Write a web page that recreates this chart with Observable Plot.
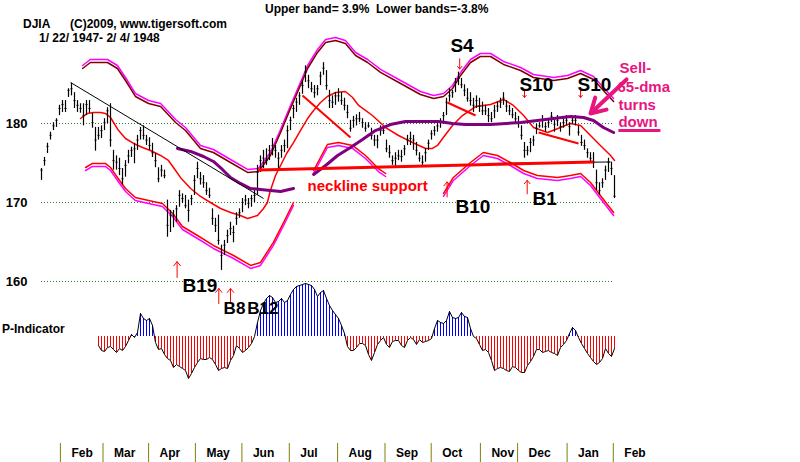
<!DOCTYPE html>
<html>
<head>
<meta charset="utf-8">
<script src="https://cdn.jsdelivr.net/npm/d3@7"></script>
<script src="https://cdn.jsdelivr.net/npm/@observablehq/plot@0.6"></script>
<style>
html,body{margin:0;padding:0;background:#fff;}
#wrap{position:relative;width:800px;height:462px;overflow:hidden;background:#fff;font-family:"Liberation Sans",Arial,Helvetica,sans-serif;font-weight:bold;color:#000;}
#wrap svg{position:absolute;left:0;}
.t{position:absolute;white-space:pre;font-size:12px;line-height:12px;}
</style>
</head>
<body>
<div id="wrap">
<div class="t" style="left:23px;top:18px">DJIA</div>
<div class="t" style="left:70px;top:18px">(C)2009, www.tigersoft.com</div>
<div class="t" style="left:39px;top:32px">1/ 22/ 1947- 2/ 4/ 1948</div>
<div class="t" style="left:265px;top:3px">Upper band= 3.9%  Lower bands=-3.8%</div>
<div class="t" style="left:2px;top:323px">P-Indicator</div>
</div>
<script>
// ---------------- DATA ----------------
// daily-ish bars (one bar per ~1.6 trading days), DJIA price
const hi = [174.3,175.7,177.5,178.9,180.1,180.6,182.3,182.9,182.9,184.4,185.1,183.9,182.9,182.5,182.5,182.9,182.9,181.3,179.5,179.5,179.7,180.6,182.0,182.5,176.6,175.9,175.6,174.3,175.3,176.6,177.0,177.5,178.5,179.5,179.7,178.5,178.2,177.5,176.2,174.4,174.7,174.1,
170.3,169.0,169.0,169.6,171.5,171.1,170.9,170.3,170.9,173.4,175.1,173.8,173.4,172.5,171.8,169.2,168.0,168.4,164.6,165.2,166.5,167.5,167.0,168.7,169.2,170.5,170.9,170.5,170.9,171.5,
174.7,175.9,176.6,176.8,177.2,178.1,177.2,176.3,177.2,177.9,179.7,180.8,182.3,183.2,183.9,185.4,187.3,186.1,185.2,184.8,184.8,186.5,187.7,186.7,184.2,183.5,183.9,184.4,183.9,183.2,182.3,180.4,180.9,181.1,181.4,180.6,180.1,180.1,179.4,178.5,178.5,179.7,179.6,
177.9,177.2,175.9,176.3,176.6,176.6,177.2,178.5,178.9,178.5,177.6,176.3,175.9,176.8,177.9,179.1,179.6,180.1,180.6,181.4,183.2,184.4,184.2,185.7,186.5,185.7,184.9,184.4,183.9,183.2,183.5,183.2,182.7,182.3,181.9,181.4,182.3,182.7,183.2,183.9,182.9,182.3,181.9,181.4,180.9,
179.7,177.6,177.1,178.1,178.4,179.9,180.1,181.0,180.1,180.6,181.4,180.4,181.0,180.1,180.6,181.0,180.1,180.9,181.0,179.7,178.5,177.9,176.8,176.3,176.3,174.1,172.5,173.0,174.6,175.6,175.1,173.4];
const lo = [172.8,174.6,176.2,177.9,179.1,179.5,181.0,181.4,181.4,183.3,183.5,181.9,181.4,181.3,179.7,181.0,181.3,179.4,176.5,177.9,178.1,179.1,180.0,177.0,174.1,174.1,173.4,172.2,173.2,174.9,175.7,174.9,176.6,177.9,177.9,177.2,176.6,175.7,174.4,172.5,173.2,173.0,
165.6,166.2,166.8,167.5,169.4,169.9,169.2,167.5,169.6,170.9,173.0,172.2,171.8,170.9,170.5,167.1,166.2,164.6,161.4,163.3,164.8,165.8,164.9,167.1,168.0,168.7,169.6,169.2,169.4,170.0,
170.9,173.8,174.3,174.7,175.3,175.9,175.6,174.3,175.6,176.3,176.8,179.1,180.6,181.4,182.3,183.7,185.2,184.4,183.9,183.2,183.5,184.8,186.1,184.2,181.9,181.9,182.3,182.7,182.3,181.6,180.6,178.9,179.4,179.7,180.1,179.4,178.9,179.4,177.9,177.1,176.8,178.4,178.6,
176.3,175.6,174.7,174.3,175.3,175.1,175.9,177.2,177.2,176.6,175.9,175.1,174.7,175.1,176.6,177.9,178.4,178.9,179.4,180.1,181.0,182.7,183.2,183.9,184.8,184.4,183.4,182.7,182.2,181.4,181.9,181.4,181.0,181.0,180.1,180.1,180.6,181.4,181.9,182.3,181.4,181.0,180.6,180.1,179.4,
177.9,175.6,175.9,176.3,177.1,178.6,179.4,179.4,178.9,179.4,180.1,178.9,179.6,178.9,179.4,179.7,178.4,179.9,179.7,178.4,177.1,176.6,175.6,175.1,174.3,171.5,170.9,171.8,172.8,173.8,173.4,170.5];
const cl = [174.1,175.3,177.1,178.5,179.7,180.4,181.9,182.4,181.9,184.2,184.4,182.9,182.3,181.9,181.0,182.4,181.9,180.1,177.9,178.5,179.1,180.1,181.6,177.9,175.3,175.1,174.3,173.0,174.7,175.9,176.6,176.8,177.9,179.1,178.5,177.9,177.2,176.3,175.3,173.0,174.1,173.4,
167.1,168.4,168.4,169.2,170.9,170.5,169.6,169.0,170.5,172.8,174.3,173.0,172.5,171.5,170.9,168.0,167.1,165.2,163.3,164.6,165.8,166.7,166.2,168.0,168.7,170.0,170.3,169.9,170.5,170.9,
173.8,175.3,175.6,175.3,176.6,177.2,176.6,175.6,176.6,177.2,179.1,180.4,181.9,182.7,183.5,184.8,186.5,185.4,184.4,183.9,184.4,186.0,187.0,184.8,182.9,182.7,183.5,183.5,182.9,182.3,181.4,179.4,180.4,180.6,180.6,180.1,179.4,179.7,178.5,177.9,177.9,179.1,179.1,
176.8,176.3,175.3,175.6,175.9,175.8,176.8,177.9,178.1,177.9,176.6,175.6,175.1,176.3,177.5,178.7,179.1,179.7,180.1,181.0,182.7,183.5,183.9,185.2,185.7,184.9,184.2,183.2,182.9,182.3,182.9,182.2,181.6,181.6,181.0,180.6,181.6,182.2,182.7,183.2,182.2,181.6,181.1,180.6,180.1,
178.5,176.6,176.6,177.6,177.9,179.4,179.7,180.4,179.6,180.1,180.9,179.9,180.4,179.6,180.1,180.4,179.6,180.4,180.4,178.9,177.6,177.2,176.3,175.6,175.1,172.5,171.5,172.5,174.1,175.1,174.3,170.8];

// 21-dma (middle red), positions in bar units
const maDay   = [13.0,15.3,17.3,19.7,21.3,23.0,25.7,28.0,30.7,33.7,36.3,39.7,42.3,44.7,46.3,49.7,53.0,56.3,59.7,63.0,66.3,68.7,72.0,74.0,75.3,76.3,78.0,79.7,81.7,84.0,86.3,88.7,90.7,93.0,95.3,98.0,101.3,103.7,105.7,108.0,110.3,114.7,119.0,123.7,128.0,130.3,132.0,133.7,137.0,140.3,144.7,149.7,154.0,157.3,160.7,164.0,168.7,173.0,176.3,179.7,183.0,186.3,189.7,191.0];
const maPrice = [180.63,181.27,181.39,181.39,181.27,180.76,179.11,178.10,177.47,176.96,176.58,175.95,175.32,174.05,173.17,171.77,170.76,170.00,169.24,168.73,168.35,167.98,168.35,169.24,170.00,171.52,173.42,174.68,176.20,177.59,179.11,180.63,181.65,182.66,183.42,183.92,184.05,183.29,182.28,181.65,181.01,179.49,178.48,177.59,176.84,176.84,177.22,178.10,179.75,181.01,182.15,182.41,183.04,182.28,181.01,179.49,178.86,179.49,180.00,179.75,178.48,177.22,175.95,175.32];

// upper band (dark red, magenta twin just above)
const upDay   = [13.7,16.3,22.0,25.3,28.0,31.3,35.7,39.7,44.7,48.0,53.0,57.3,63.0,68.7,72.3,76.3,79.7,83.0,86.3,88.7,92.0,94.7,98.0,101.3,104.7,108.7,113.0,119.7,126.3,130.7,134.0,137.0,139.7,143.0,146.3,149.7,154.0,159.7,164.0,170.7,175.3,179.7,184.0,187.3,190.7];
const upPrice = [186.96,187.72,187.72,186.96,185.44,183.42,182.53,182.15,180.13,179.11,176.84,176.33,175.06,173.80,173.92,175.95,178.86,181.90,184.81,186.96,188.99,190.25,190.51,190.13,188.61,187.72,186.46,185.06,183.67,183.17,183.42,184.43,186.08,187.72,188.48,188.48,187.47,186.71,185.82,185.44,185.70,186.33,185.57,184.18,182.78];

// lower band (red, magenta twin just below); null = hidden behind label
const lowDay   = [14.7,17.0,21.3,23.0,25.3,28.0,31.3,35.7,40.3,43.7,47.0,52.0,57.3,64.0,69.7,73.0,77.3,80.7,84.0,null,90.7,95.3,99.0,103.7,108.0,112.3,114.7,null,134.0,137.3,143.0,147.3,152.0,156.3,160.7,165.3,172.0,176.3,179.7,183.0,186.3,190.7];
const lowPrice = [174.43,174.94,174.94,174.43,173.17,171.77,170.63,170.25,169.87,168.61,166.96,165.82,164.56,163.29,162.03,162.41,164.94,167.47,170.00,null,174.05,177.34,177.59,177.22,175.95,174.30,173.67,null,171.14,173.17,175.06,176.33,175.95,175.06,174.05,173.42,173.17,173.42,173.67,172.53,170.89,168.73];

// 65-dma (purple)
const ma65Day   = [45.3,49.7,54.0,57.3,60.3,63.0,66.3,69.7,73.0,76.3,79.7,84.0,null,90.7,94.7,98.7,103.0,107.0,111.3,116.3,121.3,128.0,132.3,137.0,141.3,149.7,159.7,165.3,170.7,176.3,180.7,184.0,187.3,190.7];
const ma65Price = [176.84,176.46,175.82,175.19,174.18,173.17,172.41,171.77,171.65,171.52,171.39,171.77,null,173.55,174.68,175.95,176.96,177.97,179.11,179.87,180.25,180.25,180.25,180.00,179.87,179.87,180.13,180.38,180.63,180.89,180.76,180.38,179.49,178.86];

// P-Indicator, one value per bar starting at bar 19
const pStart = 19;
const pInd = [-9,-14,-15,-11,-10,-13,-16,-12,-14,-10,-4,2,-1,4,23,18,16,18,11,-6,-13,-12,-18,-22,-24,-31,-28,-30,-32,-34,-42,-37,-31,-26,-22,-23,-23,-21,-23,-28,-34,-32,-31,-32,-24,-19,-9,-12,-16,-14,-11,-7,0,14,26,33,38,41,39,34,35,38,34,36,42,47,50,51,52,53,52,51,47,40,44,46,38,31,26,22,18,11,3,-10,-14,-14,-11,-7,-7,-9,-18,-24,-16,-8,-4,-1,-8,-11,-5,-4,-4,-9,-11,-4,-1,-3,-8,-3,-6,-5,-4,-2,8,16,14,13,16,25,19,18,19,24,20,19,8,0,-2,-8,-14,-13,-16,-24,-34,-32,-31,-32,-34,-35,-30,-31,-34,-36,-36,-29,-25,-20,-13,-13,-16,-15,-14,-16,-17,-19,-11,-8,-4,3,9,6,-1,-7,-12,-17,-21,-25,-28,-26,-22,-12,-17,-20,-12];

// month ticks (bar position of each month start)
const monthLabels = ["Feb","Mar","Apr","May","Jun","Jul","Aug","Sep","Oct","Nov","Dec","Jan","Feb"];
const monthStart  = [6.3,20.5,35.7,51.3,66.8,82.6,98.7,114.5,129.9,146.3,158.7,175.2,190.6];
const gridPrices  = [180,170,160];

// drawn trend lines
const lineKind      = ["trend","trend","neckline","sell","sell","sell"];
const lineFromDay   = [9.7,148.7,72.3,87.0,135.3,165.7];
const lineFromPrice = [185.19,174.94,174.11,183.54,182.66,178.86];
const lineToDay     = [74.0,189.7,184.0,103.0,144.7,179.0];
const lineToPrice   = [170.51,175.13,175.13,178.23,181.01,177.47];

// signal labels and arrows
const sigText  = ["S4","S10","S10","B10","B1","B19"];
const sigDay   = [136.3,159.3,178.7,138.0,163.7,47.0];
const sigPrice = [189.87,184.94,184.94,169.49,170.51,159.43];
const maySigText  = ["B8","B12"];
const maySigDay   = [60.7,68.6];
const maySigPrice = [156.58,156.58];
const arrowDay  = [45.2,59.1,63.0,135.2,161.9,139.4,161.0,179.7];
const arrowFrom = [160.5,157.2,157.2,170.7,171.1,188.2,184.3,184.3];
const arrowTo   = [162.5,159.1,159.1,172.6,172.8,186.9,183.3,183.3];

// pink note
const noteText  = ["Sell-","65-dma","turns","down"];
const noteDay   = [192.7,192.0,192.3,192.3];
const notePrice = [186.96,184.56,182.28,180.13];

// ---------------- BUILD ----------------
const FONT = '"Liberation Sans", Arial, Helvetica, sans-serif';
const PINK = "#e8157f";
const N = cl.length;
const xDom = [0, N - 1];
const bars = cl.map((c, i) => ({i, hi: hi[i], lo: lo[i], cl: c}));
const pts = (ds, vs) => ds.map((d, k) => ({x: d, y: vs[k]}));
const ma = pts(maDay, maPrice), up = pts(upDay, upPrice), low = pts(lowDay, lowPrice), m65 = pts(ma65Day, ma65Price);
const lines = lineKind.map((k, j) => ({k, x1: lineFromDay[j], y1: lineFromPrice[j], x2: lineToDay[j], y2: lineToPrice[j]}));
const sigs = sigText.map((t, j) => ({t, x: sigDay[j], y: sigPrice[j]}));
const maySigs = maySigText.map((t, j) => ({t, x: maySigDay[j], y: maySigPrice[j]}));
const arrows = arrowDay.map((d, j) => ({x: d, y1: arrowFrom[j], y2: arrowTo[j]}));
const notes = noteText.map((t, j) => ({t, x: noteDay[j], y: notePrice[j]}));
const pData = pInd.map((p, k) => ({i: pStart + k, p}));
const byKind = k => lines.filter(d => d.k === k);

const common = {width: 800, marginLeft: 41, marginRight: 186, marginTop: 0, marginBottom: 0};
const wrap = document.getElementById("wrap");

// P-indicator panel
const pPlot = Plot.plot({
  ...common, height: 120,
  style: {background: "transparent", overflow: "visible", fontFamily: FONT},
  x: {domain: xDom, axis: null},
  y: {domain: [-54, 66], axis: null},
  color: {type: "identity"},
  marks: [
    Plot.ruleX(pData, {x: "i", y1: 0, y2: "p", stroke: d => d.p >= 0 ? "#0000ff" : "#ff0000", strokeWidth: 1}),
    Plot.line(pData, {x: "i", y: "p", stroke: "#000", strokeWidth: 1})
  ]
});
pPlot.style.top = "270px";
wrap.appendChild(pPlot);

// month axis
const axPlot = Plot.plot({
  ...common, height: 30, marginTop: 11,
  style: {background: "transparent", overflow: "visible", fontFamily: FONT, fontWeight: "bold", fontSize: "12px"},
  x: {domain: xDom, axis: null},
  marks: [
    Plot.ruleX(monthStart, {stroke: "#808000", strokeWidth: 1}),
    Plot.text(monthLabels, {x: (d, i) => monthStart[i], text: d => d, frameAnchor: "middle", textAnchor: "start", dx: 11, fill: "#000"})
  ]
});
axPlot.style.top = "432px";
wrap.appendChild(axPlot);

// price panel
const main = Plot.plot({
  ...common, height: 320,
  style: {background: "transparent", overflow: "visible", fontFamily: FONT, fontWeight: "bold", fontSize: "13px"},
  x: {domain: xDom, axis: null},
  y: {domain: [155.06, 195.57], ticks: gridPrices, tickSize: 0, tickPadding: 14, label: null},
  marks: [
    Plot.ruleY(gridPrices, {stroke: "#2a7a2a", strokeDasharray: "1,2"}),
    Plot.line(up, {x: "x", y: "y", stroke: "#ff00ff", dy: -3}),
    Plot.line(up, {x: "x", y: "y", stroke: "#800000"}),
    Plot.line(low, {x: "x", y: "y", stroke: "#ff00ff", dy: 3}),
    Plot.line(low, {x: "x", y: "y", stroke: "#ff0000"}),
    Plot.line(ma, {x: "x", y: "y", stroke: "#ff0000"}),
    Plot.ruleX(bars, {x: "i", y1: "lo", y2: "hi", stroke: "#000", strokeWidth: 1.2}),
    Plot.link(bars, {x1: d => d.i - 0.34, x2: d => d.i + 0.34, y1: "cl", y2: "cl", stroke: "#000"}),
    Plot.line(m65, {x: "x", y: "y", stroke: "#800080", strokeWidth: 3}),
    Plot.link(byKind("trend"), {x1: "x1", y1: "y1", x2: "x2", y2: "y2", stroke: "#000", strokeWidth: 1}),
    Plot.link(byKind("neckline"), {x1: "x1", y1: "y1", x2: "x2", y2: "y2", stroke: "#ff0000", strokeWidth: 3}),
    Plot.link(byKind("sell"), {x1: "x1", y1: "y1", x2: "x2", y2: "y2", stroke: "#ff0000", strokeWidth: 2}),
    Plot.arrow(arrows, {x1: "x", x2: "x", y1: "y1", y2: "y2", stroke: "#ff0000", strokeWidth: 1, headLength: 9, headAngle: 80}),
    Plot.text(sigs, {x: "x", y: "y", text: "t", textAnchor: "start", fontSize: 19, fontWeight: "bold", fill: "#000"}),
    Plot.text(maySigs, {x: "x", y: "y", text: "t", textAnchor: "start", fontSize: 17, fontWeight: "bold", fill: "#000"}),
    Plot.text(["neckline support"], {x: 88.7, y: 172.03, text: d => d, textAnchor: "start", fontSize: 15, fontWeight: "bold", fill: "#ff0000"}),
    Plot.text(notes, {x: "x", y: "y", text: "t", textAnchor: "start", fontSize: 15, fontWeight: "bold", fill: PINK}),
    Plot.link([{x1: 192.3, x2: 206.3, y: 179.11}], {x1: "x1", x2: "x2", y1: "y", y2: "y", stroke: PINK, strokeWidth: 3}),
    Plot.arrow([{x1: 195.0, y1: 185.57, x2: 183.0, y2: 181.27}], {x1: "x1", y1: "y1", x2: "x2", y2: "y2", stroke: PINK, strokeWidth: 4, headLength: 10, headAngle: 60})
  ]
});
main.style.top = "0px";
wrap.appendChild(main);
</script>
</body>
</html>
